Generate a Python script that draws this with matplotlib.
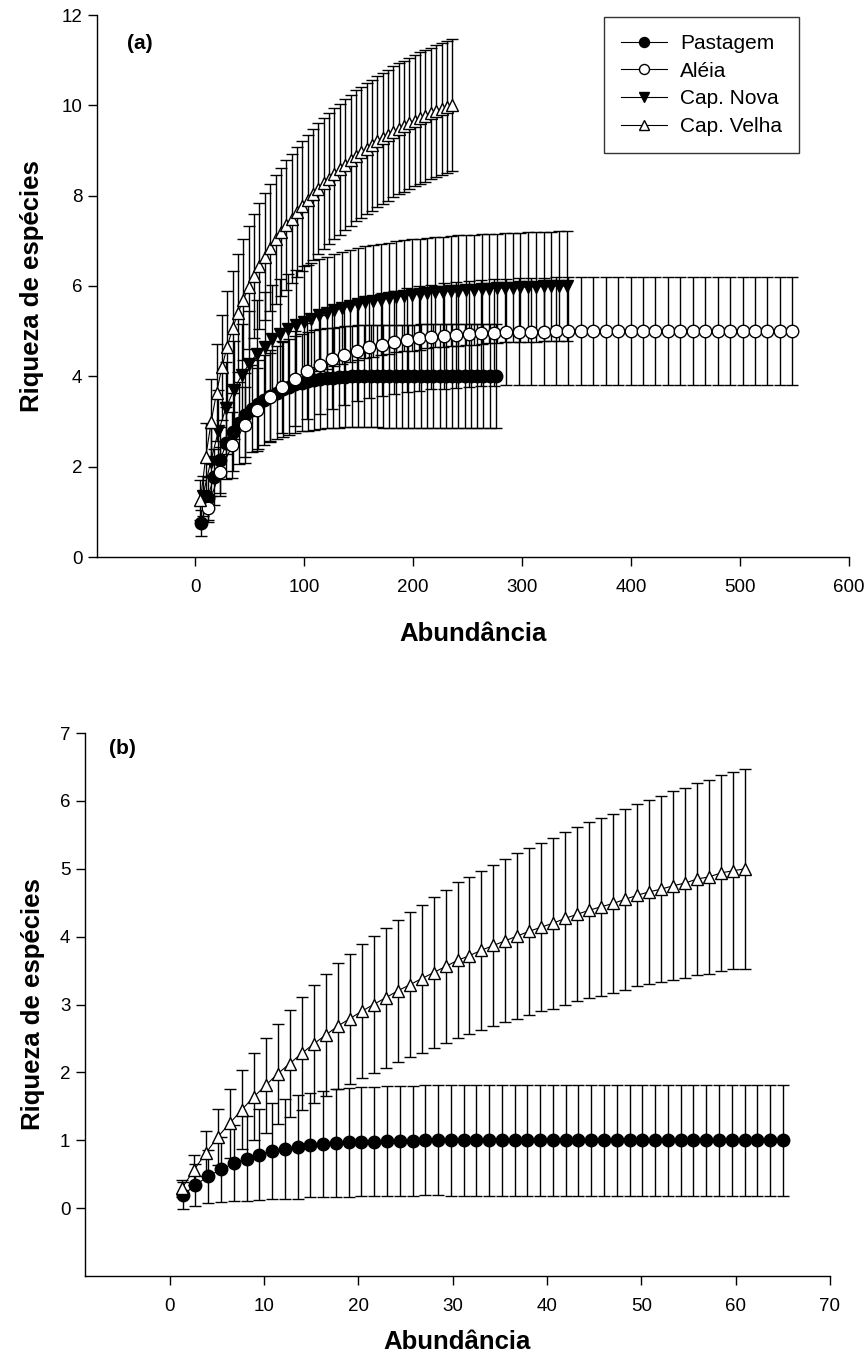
import matplotlib
matplotlib.use("Agg")
import matplotlib.pyplot as plt

plt.rcParams["font.family"] = ["Liberation Sans", "DejaVu Sans"]

# ---- panel (a): rarefaction, all sites ----
past_a_x = [5.8, 11.5, 17.3, 23.0, 28.8, 34.5, 40.3, 46.0, 51.8, 57.5, 63.3, 69.0,
            74.8, 80.5, 86.3, 92.0, 97.8, 103.5, 109.3, 115.0, 120.8, 126.5, 132.3, 138.0,
            143.8, 149.5, 155.3, 161.0, 166.8, 172.5, 178.3, 184.0, 189.8, 195.5, 201.3, 207.0,
            212.8, 218.5, 224.3, 230.0, 235.8, 241.5, 247.3, 253.0, 258.8, 264.5, 270.3, 276.0]
past_a_y = [0.75, 1.30, 1.78, 2.15, 2.52, 2.77, 2.97, 3.15, 3.28, 3.38, 3.47, 3.56,
            3.64, 3.71, 3.77, 3.82, 3.86, 3.89, 3.92, 3.94, 3.96, 3.97, 3.98, 3.99,
            4.00, 4.00, 4.00, 4.00, 4.00, 4.00, 4.00, 4.00, 4.00, 4.00, 4.00, 4.00,
            4.00, 4.00, 4.00, 4.00, 4.00, 4.00, 4.00, 4.00, 4.00, 4.00, 4.00, 4.00]
past_a_sd = [0.28, 0.48, 0.62, 0.73, 0.80, 0.86, 0.90, 0.93, 0.96, 0.98, 1.00, 1.02,
             1.03, 1.05, 1.06, 1.07, 1.08, 1.09, 1.10, 1.10, 1.11, 1.11, 1.12, 1.12,
             1.12, 1.13, 1.13, 1.13, 1.13, 1.14, 1.14, 1.14, 1.14, 1.14, 1.14, 1.15,
             1.15, 1.15, 1.15, 1.15, 1.15, 1.15, 1.15, 1.15, 1.15, 1.15, 1.15, 1.15]

aleia_x = [11.4, 22.8, 34.3, 45.7, 57.1, 68.5, 79.9, 91.3, 102.8, 114.2, 125.6, 137.0,
           148.4, 159.8, 171.3, 182.7, 194.1, 205.5, 216.9, 228.3, 239.8, 251.2, 262.6, 274.0,
           285.4, 296.8, 308.3, 319.7, 331.1, 342.5, 353.9, 365.3, 376.8, 388.2, 399.6, 411.0,
           422.4, 433.8, 445.3, 456.7, 468.1, 479.5, 490.9, 502.3, 513.8, 525.2, 536.6, 548.0]
aleia_y = [1.08, 1.89, 2.48, 2.92, 3.26, 3.54, 3.77, 3.95, 4.12, 4.26, 4.38, 4.48,
           4.57, 4.64, 4.70, 4.75, 4.80, 4.84, 4.87, 4.90, 4.92, 4.94, 4.96, 4.97,
           4.98, 4.99, 4.99, 4.99, 5.00, 5.00, 5.00, 5.00, 5.00, 5.00, 5.00, 5.00,
           5.00, 5.00, 5.00, 5.00, 5.00, 5.00, 5.00, 5.00, 5.00, 5.00, 5.00, 5.00]
aleia_sd = [0.30, 0.55, 0.72, 0.84, 0.92, 0.98, 1.02, 1.05, 1.07, 1.09, 1.10, 1.11,
            1.12, 1.13, 1.14, 1.15, 1.15, 1.16, 1.16, 1.17, 1.17, 1.17, 1.18, 1.18,
            1.18, 1.18, 1.19, 1.19, 1.19, 1.19, 1.19, 1.20, 1.20, 1.20, 1.20, 1.20,
            1.20, 1.20, 1.20, 1.20, 1.20, 1.20, 1.20, 1.20, 1.20, 1.20, 1.20, 1.20]

nova_x = [7.1, 14.2, 21.3, 28.4, 35.5, 42.6, 49.7, 56.8, 63.9, 71.0, 78.1, 85.3,
          92.4, 99.5, 106.6, 113.7, 120.8, 127.9, 135.0, 142.1, 149.2, 156.3, 163.4, 170.5,
          177.6, 184.7, 191.8, 198.9, 206.0, 213.1, 220.2, 227.3, 234.4, 241.5, 248.6, 255.8,
          262.9, 270.0, 277.1, 284.2, 291.3, 298.4, 305.5, 312.6, 319.7, 326.8, 333.9, 341.0]
nova_y = [1.35, 2.10, 2.78, 3.30, 3.70, 4.02, 4.28, 4.50, 4.66, 4.82, 4.94, 5.04,
          5.13, 5.21, 5.28, 5.35, 5.41, 5.46, 5.51, 5.56, 5.60, 5.64, 5.67, 5.70,
          5.73, 5.76, 5.78, 5.80, 5.82, 5.84, 5.86, 5.87, 5.89, 5.90, 5.91, 5.92,
          5.93, 5.94, 5.95, 5.96, 5.96, 5.97, 5.98, 5.98, 5.99, 5.99, 6.00, 6.00]
nova_sd = [0.45, 0.75, 0.92, 1.02, 1.09, 1.13, 1.16, 1.18, 1.20, 1.21, 1.22, 1.23,
           1.23, 1.24, 1.24, 1.24, 1.24, 1.24, 1.24, 1.24, 1.24, 1.24, 1.24, 1.23,
           1.23, 1.23, 1.23, 1.23, 1.23, 1.22, 1.22, 1.22, 1.22, 1.22, 1.22, 1.22,
           1.22, 1.21, 1.21, 1.21, 1.21, 1.21, 1.21, 1.21, 1.21, 1.21, 1.21, 1.21]

velha_a_x = [4.9, 9.8, 14.8, 19.7, 24.6, 29.5, 34.4, 39.3, 44.3, 49.2, 54.1, 59.0,
             63.9, 68.8, 73.8, 78.7, 83.6, 88.5, 93.4, 98.3, 103.3, 108.2, 113.1, 118.0,
             122.9, 127.8, 132.8, 137.7, 142.6, 147.5, 152.4, 157.3, 162.3, 167.2, 172.1, 177.0,
             181.9, 186.8, 191.8, 196.7, 201.6, 206.5, 211.4, 216.3, 221.3, 226.2, 231.1, 236.0]
velha_a_y = [1.26, 2.22, 3.00, 3.64, 4.20, 4.66, 5.06, 5.40, 5.70, 5.97, 6.22, 6.44,
             6.65, 6.85, 7.03, 7.19, 7.35, 7.49, 7.63, 7.77, 7.90, 8.03, 8.15, 8.27,
             8.38, 8.48, 8.58, 8.68, 8.78, 8.88, 8.96, 9.04, 9.12, 9.20, 9.27, 9.34,
             9.41, 9.48, 9.54, 9.60, 9.66, 9.72, 9.77, 9.82, 9.87, 9.92, 9.96, 10.00]
velha_a_sd = [0.45, 0.75, 0.95, 1.07, 1.16, 1.23, 1.28, 1.31, 1.34, 1.36, 1.38, 1.39,
              1.40, 1.41, 1.42, 1.42, 1.43, 1.43, 1.44, 1.44, 1.44, 1.45, 1.45, 1.45,
              1.45, 1.45, 1.45, 1.45, 1.45, 1.45, 1.45, 1.45, 1.45, 1.45, 1.45, 1.45,
              1.45, 1.45, 1.45, 1.45, 1.45, 1.46, 1.46, 1.46, 1.46, 1.46, 1.46, 1.46]

# ---- panel (b) ----
past_b_x = [1.35, 2.71, 4.06, 5.42, 6.77, 8.13, 9.48, 10.83, 12.19, 13.54, 14.90, 16.25,
            17.60, 18.96, 20.31, 21.67, 23.02, 24.38, 25.73, 27.08, 28.44, 29.79, 31.15, 32.50,
            33.85, 35.21, 36.56, 37.92, 39.27, 40.63, 41.98, 43.33, 44.69, 46.04, 47.40, 48.75,
            50.10, 51.46, 52.81, 54.17, 55.52, 56.88, 58.23, 59.58, 60.94, 62.29, 63.65, 65.00]
past_b_y = [0.19, 0.34, 0.47, 0.57, 0.66, 0.73, 0.79, 0.84, 0.87, 0.90, 0.93, 0.94,
            0.96, 0.97, 0.98, 0.98, 0.99, 0.99, 0.99, 1.00, 1.00, 1.00, 1.00, 1.00,
            1.00, 1.00, 1.00, 1.00, 1.00, 1.00, 1.00, 1.00, 1.00, 1.00, 1.00, 1.00,
            1.00, 1.00, 1.00, 1.00, 1.00, 1.00, 1.00, 1.00, 1.00, 1.00, 1.00, 1.00]
past_b_sd = [0.20, 0.31, 0.39, 0.48, 0.56, 0.62, 0.67, 0.71, 0.74, 0.76, 0.77, 0.78,
             0.79, 0.80, 0.80, 0.80, 0.81, 0.81, 0.81, 0.81, 0.81, 0.82, 0.82, 0.82,
             0.82, 0.82, 0.82, 0.82, 0.82, 0.82, 0.82, 0.82, 0.82, 0.82, 0.82, 0.82,
             0.82, 0.82, 0.82, 0.82, 0.82, 0.82, 0.82, 0.82, 0.82, 0.82, 0.82, 0.82]

velha_b_x = [1.27, 2.54, 3.81, 5.08, 6.35, 7.63, 8.90, 10.17, 11.44, 12.71, 13.98, 15.25,
             16.52, 17.79, 19.06, 20.33, 21.60, 22.88, 24.15, 25.42, 26.69, 27.96, 29.23, 30.50,
             31.77, 33.04, 34.31, 35.58, 36.85, 38.13, 39.40, 40.67, 41.94, 43.21, 44.48, 45.75,
             47.02, 48.29, 49.56, 50.83, 52.10, 53.38, 54.65, 55.92, 57.19, 58.46, 59.73, 61.00]
velha_b_y = [0.29, 0.56, 0.81, 1.05, 1.25, 1.45, 1.64, 1.81, 1.98, 2.13, 2.28, 2.42,
             2.55, 2.68, 2.79, 2.90, 3.00, 3.10, 3.20, 3.29, 3.38, 3.47, 3.56, 3.65,
             3.72, 3.80, 3.87, 3.94, 4.01, 4.08, 4.14, 4.20, 4.27, 4.33, 4.39, 4.44,
             4.49, 4.55, 4.61, 4.66, 4.70, 4.75, 4.79, 4.85, 4.88, 4.94, 4.97, 5.00]
velha_b_sd = [0.12, 0.22, 0.33, 0.41, 0.51, 0.58, 0.64, 0.70, 0.74, 0.79, 0.83, 0.87,
              0.90, 0.93, 0.96, 0.99, 1.01, 1.03, 1.05, 1.07, 1.09, 1.11, 1.13, 1.15,
              1.16, 1.17, 1.19, 1.20, 1.22, 1.23, 1.24, 1.26, 1.27, 1.28, 1.30, 1.31,
              1.32, 1.33, 1.34, 1.36, 1.37, 1.39, 1.40, 1.42, 1.43, 1.44, 1.45, 1.47]

STYLE = {
    "Pastagem": dict(marker="o", mfc="black"),
    "Aléia": dict(marker="o", mfc="white"),
    "Cap. Nova": dict(marker="v", mfc="black"),
    "Cap. Velha": dict(marker="^", mfc="white"),
}


def draw_series(ax, x, y, sd, name):
    ax.errorbar(x, y, yerr=sd, fmt="none", ecolor="black", elinewidth=1.0,
                capsize=4.6, capthick=1.0, zorder=2)
    st = STYLE[name]
    ax.plot(x, y, color="black", lw=0.8, marker=st["marker"], ms=9,
            mfc=st["mfc"], mec="black", mew=1.0, label=name, zorder=3)


def style_axes(ax, xlim, ylim, xticks, yticks):
    ax.set_xlim(*xlim)
    ax.set_ylim(*ylim)
    ax.set_xticks(xticks)
    ax.set_yticks(yticks)
    for side in ("top", "right"):
        ax.spines[side].set_visible(False)
    for side in ("left", "bottom"):
        ax.spines[side].set_linewidth(1.0)
    ax.tick_params(direction="out", length=6.5, width=1.0, labelsize=13.5)
    ax.tick_params(axis="x", pad=9.5)
    ax.tick_params(axis="y", pad=4)
    ax.set_xlabel("Abundância", fontsize=18.5, fontweight="bold")
    ax.set_ylabel("Riqueza de espécies", fontsize=18.5, fontweight="bold")


fig = plt.figure(figsize=(8.68, 13.61), dpi=100)

ax1 = fig.add_axes([97 / 868, 1 - 557 / 1361, 752 / 868, 542 / 1361])
draw_series(ax1, past_a_x, past_a_y, past_a_sd, "Pastagem")
draw_series(ax1, aleia_x, aleia_y, aleia_sd, "Aléia")
draw_series(ax1, nova_x, nova_y, nova_sd, "Cap. Nova")
draw_series(ax1, velha_a_x, velha_a_y, velha_a_sd, "Cap. Velha")
style_axes(ax1, (-90, 600), (0, 12), range(0, 601, 100), range(0, 13, 2))
ax1.xaxis.set_label_coords(0.5, -0.12)
ax1.yaxis.set_label_coords(-0.07, 0.5)
ax1.text(0.057, 0.948, "(a)", transform=ax1.transAxes, fontsize=15,
         fontweight="bold", ha="center", va="center")
leg = ax1.legend(loc="upper left", bbox_to_anchor=(0.674, 0.996), fontsize=15,
                 frameon=True, fancybox=False, edgecolor="black", markerscale=0.8,
                 handlelength=2.25, handletextpad=0.62, labelspacing=0.42,
                 borderpad=0.8, borderaxespad=0)
leg.get_frame().set_linewidth(1.0)

ax2 = fig.add_axes([85 / 868, 1 - 1276 / 1361, 745 / 868, 543 / 1361])
draw_series(ax2, past_b_x, past_b_y, past_b_sd, "Pastagem")
draw_series(ax2, velha_b_x, velha_b_y, velha_b_sd, "Cap. Velha")
style_axes(ax2, (-9, 70), (-1, 7), range(0, 71, 10), range(0, 8))
ax2.xaxis.set_label_coords(0.5, -0.1)
ax2.yaxis.set_label_coords(-0.054, 0.5)
ax2.text(0.05, 0.972, "(b)", transform=ax2.transAxes, fontsize=15,
         fontweight="bold", ha="center", va="center")

fig.savefig("out.png", dpi=100)
